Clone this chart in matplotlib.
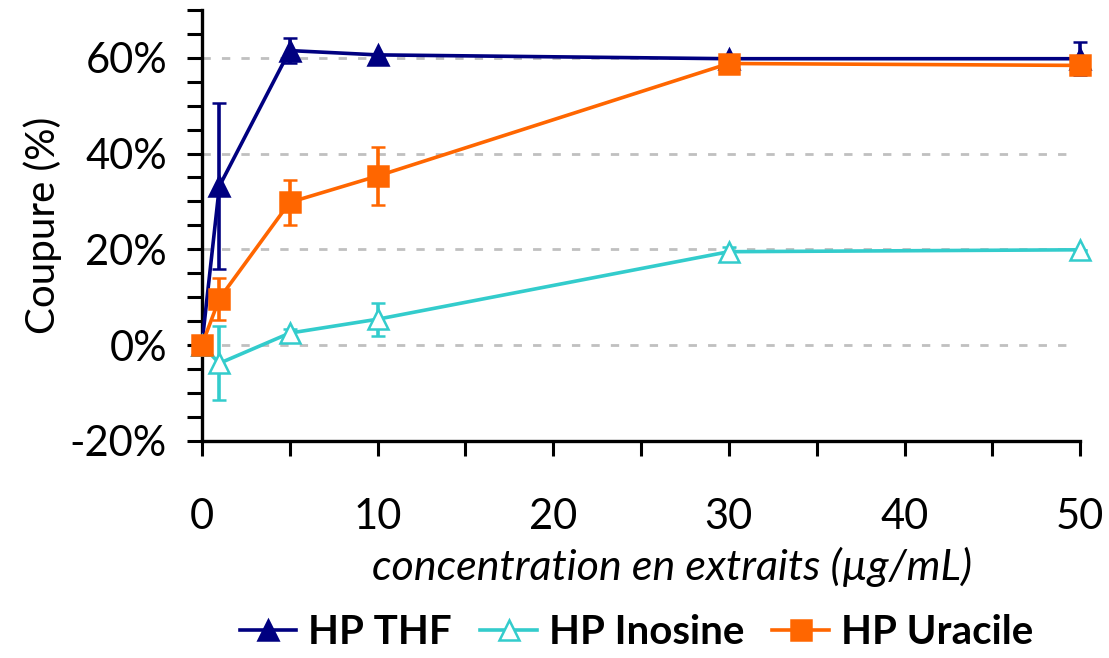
import numpy as np
import matplotlib
matplotlib.use('Agg')
import matplotlib.pyplot as plt
from matplotlib.lines import Line2D
from matplotlib.ticker import MultipleLocator, FuncFormatter

plt.rcParams['font.family'] = ['Lato', 'DejaVu Sans']

# concentrations (µg/mL)
conc = [0, 1, 5, 10, 30, 50]

# coupure (%) and error bars
thf = [0, 33.2, 61.5, 60.6, 59.8, 59.8]
thf_err = [0, 17.4, 2.6, 0, 0.8, 3.5]

inosine = [0, -3.8, 2.5, 5.4, 19.5, 19.9]
inosine_err = [0, 7.7, 0.8, 3.4, 1.0, 0]

uracile = [0, 9.7, 29.8, 35.3, 58.8, 58.4]
uracile_err = [0, 4.4, 4.7, 6.0, 0.8, 1.5]

labels = ['HP THF', 'HP Inosine', 'HP Uracile']
colors = ['#000080', '#33CCCC', '#FF6600']

fig = plt.figure(figsize=(11.09, 6.58), dpi=100)
ax = fig.add_axes([0.182, 0.330, 0.792, 0.655])

series = [(thf, thf_err, '^', colors[0], colors[0]),
          (inosine, inosine_err, '^', colors[1], 'white'),
          (uracile, uracile_err, 's', colors[2], colors[2])]

handles = []
for k, (vals, err, mk, col, face) in enumerate(series):
    ax.errorbar(conc, vals, yerr=err, color=col, marker=mk, markersize=15,
                markerfacecolor=face, markeredgecolor=col, markeredgewidth=1.8,
                linewidth=2.6, elinewidth=2.6, capsize=5, capthick=2.6,
                zorder=3 + k, clip_on=False)
    handles.append(Line2D([], [], color=col, marker=mk, markersize=15,
                          markerfacecolor=face, markeredgecolor=col,
                          markeredgewidth=1.8, linewidth=2.6))

ax.set_xlim(0, 50)
ax.set_ylim(-20, 70)

for g in [0, 20, 40, 60]:
    ax.axhline(g, xmin=0, xmax=0.995, color='#c0c0c0', linestyle=(0, (3, 4)),
               linewidth=2, zorder=1)

ax.yaxis.set_major_locator(MultipleLocator(20))
ax.yaxis.set_minor_locator(MultipleLocator(5))
ax.xaxis.set_major_locator(MultipleLocator(10))
ax.xaxis.set_minor_locator(MultipleLocator(5))
ax.yaxis.set_major_formatter(FuncFormatter(lambda v, p: f'{v:.0f}%' if v <= 60 else ''))

ax.tick_params(axis='both', which='both', direction='out', length=11, width=2.2, labelsize=30)
ax.tick_params(axis='y', which='both', pad=14)
ax.tick_params(axis='x', which='both', pad=30)

for s in ['top', 'right']:
    ax.spines[s].set_visible(False)
for s in ['left', 'bottom']:
    ax.spines[s].set_linewidth(2.4)

ax.set_ylabel('Coupure (%)', fontsize=29, labelpad=6)
ax.set_xlabel('concentration en extraits (µg/mL)', fontsize=31, style='italic', labelpad=10)
ax.xaxis.set_label_coords(0.535, -0.245)

fig.legend(handles, labels, loc='center', bbox_to_anchor=(0.574, 0.038), ncol=3,
           frameon=False, prop={'weight': 'bold', 'size': 29}, handlelength=1.4,
           handletextpad=0.3, columnspacing=0.7)

fig.savefig('out.png', dpi=100)
